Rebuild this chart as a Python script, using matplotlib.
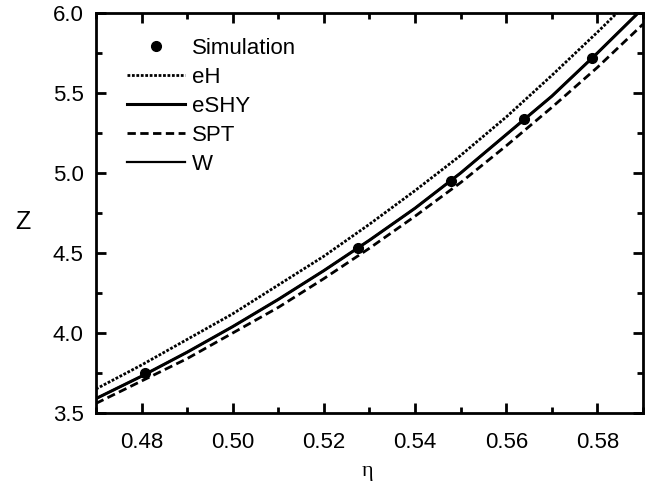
import matplotlib
matplotlib.use("Agg")
import matplotlib.pyplot as plt
from matplotlib.ticker import MultipleLocator, FormatStrFormatter

plt.rcParams['font.family'] = ['Liberation Sans', 'DejaVu Sans']

# packing fraction grid
eta = [0.47, 0.48, 0.49, 0.50, 0.51, 0.52, 0.53, 0.54, 0.55, 0.56, 0.57, 0.58, 0.59]
z_eH = [3.65, 3.80, 3.96, 4.12, 4.30, 4.48, 4.68, 4.89, 5.11, 5.35, 5.61, 5.88, 6.16]
z_eSHY = [3.59, 3.73, 3.88, 4.04, 4.21, 4.39, 4.58, 4.78, 5.00, 5.24, 5.48, 5.75, 6.03]
z_SPT = [3.56, 3.70, 3.84, 4.00, 4.16, 4.34, 4.53, 4.73, 4.94, 5.17, 5.41, 5.66, 5.93]
z_W = [3.59, 3.73, 3.88, 4.04, 4.21, 4.39, 4.58, 4.78, 5.00, 5.24, 5.48, 5.75, 6.03]

# simulation points
eta_sim = [0.4807, 0.5275, 0.5478, 0.5639, 0.5788]
z_sim = [3.75, 4.53, 4.95, 5.34, 5.72]

fig = plt.figure(figsize=(6.57, 4.86), dpi=100)
ax = fig.add_axes([0.1461, 0.1502, 0.8326, 0.8231])

ax.plot(eta_sim, z_sim, "o", color="black", markersize=7, label="Simulation")
ax.plot(eta, z_eH, color="black", lw=2, linestyle=(0, (1, 0.6)), label="eH")
ax.plot(eta, z_eSHY, color="black", lw=2.2, label="eSHY")
ax.plot(eta, z_SPT, color="black", lw=2, linestyle=(0, (3, 1.6)), label="SPT")
ax.plot(eta, z_W, color="black", lw=1.6, label="W")

ax.set_xlim(0.47, 0.59)
ax.set_ylim(3.5, 6.0)
ax.xaxis.set_major_locator(MultipleLocator(0.02))
ax.xaxis.set_minor_locator(MultipleLocator(0.01))
ax.yaxis.set_major_locator(MultipleLocator(0.5))
ax.yaxis.set_minor_locator(MultipleLocator(0.25))
ax.xaxis.set_major_formatter(FormatStrFormatter("%.2f"))
ax.yaxis.set_major_formatter(FormatStrFormatter("%.1f"))

ax.tick_params(which="both", direction="in", top=True, right=True, width=2, labelsize=16)
ax.tick_params(which="major", length=7)
ax.tick_params(which="minor", length=4)
ax.tick_params(axis="x", which="major", pad=14)
ax.tick_params(axis="y", which="major", pad=9)
for s in ax.spines.values():
    s.set_linewidth(2)

ax.set_xlabel("η", fontsize=16, family=["Liberation Serif", "DejaVu Serif"], va="center")
ax.xaxis.set_label_coords(0.497, -0.147)
ax.set_ylabel("Z", fontsize=18, rotation=0, va="center", ha="center")
ax.yaxis.set_label_coords(-0.133, 0.4775)

ax.legend(loc="upper left", bbox_to_anchor=(0.04, 0.96), frameon=False, fontsize=16,
          handlelength=2.6, handletextpad=0.35, labelspacing=0.36, borderaxespad=0)

fig.savefig("out.png", dpi=100)
